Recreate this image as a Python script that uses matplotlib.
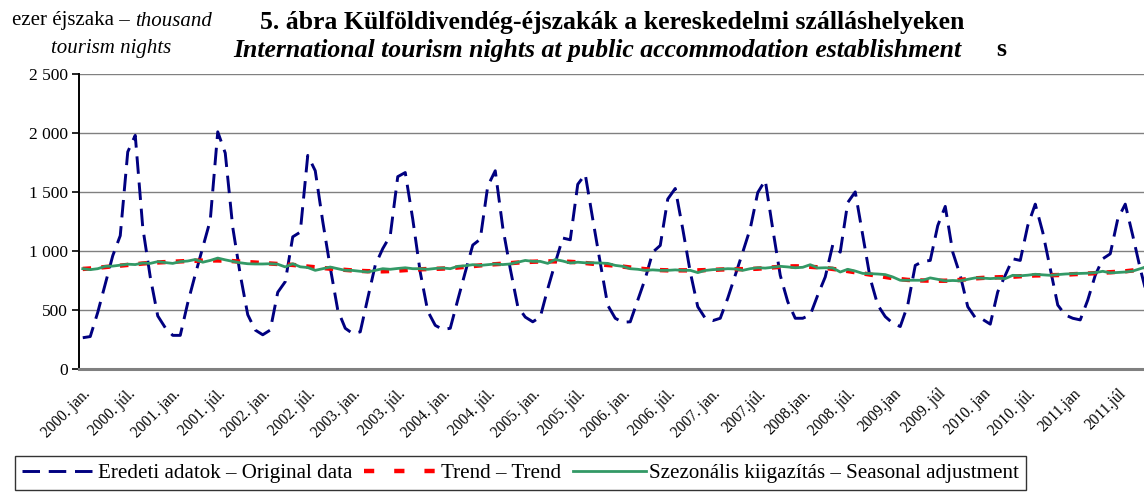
import matplotlib
matplotlib.use("Agg")
import matplotlib.pyplot as plt
from matplotlib.lines import Line2D

plt.rcParams['font.family'] = ['Liberation Serif', 'DejaVu Serif']

# ---------------- data (thousand nights), monthly from 2000 Jan ----------------
original = [
    265, 275, 480, 720, 960, 1130, 1840, 1980, 1200, 780, 450, 350,          # 2000
    285, 285, 560, 800, 1030, 1260, 2010, 1830, 1200, 800, 460, 330,         # 2001
    290, 330, 650, 740, 1120, 1160, 1810, 1680, 1250, 860, 500, 345,         # 2002
    300, 315, 600, 880, 1020, 1130, 1630, 1665, 1270, 820, 490, 370,         # 2003
    335, 345, 585, 820, 1050, 1100, 1550, 1680, 1200, 850, 530, 440,         # 2004
    400, 440, 680, 900, 1110, 1095, 1565, 1650, 1270, 900, 540, 430,         # 2005
    396, 400, 584, 766, 990, 1047, 1440, 1530, 1187, 822, 528, 430,          # 2006
    410, 430, 600, 794, 990, 1190, 1495, 1600, 1187, 794, 570, 430,          # 2007
    430, 458, 626, 780, 1052, 990, 1411, 1501, 1131, 766, 542, 444,          # 2008
    388, 360, 542, 878, 912, 920, 1215, 1378, 990, 794, 528, 435,            # 2009
    420, 380, 654, 794, 934, 920, 1215, 1397, 1159, 850, 542, 458,           # 2010
    430, 416, 584, 794, 934, 976, 1271, 1397, 1131, 850, 600,                # 2011 (to Nov)
]
trend = [
    848, 852, 858, 864, 870, 876, 882, 888, 894, 899, 903, 906,
    909, 912, 915, 917, 919, 920, 920, 918, 914, 910, 906, 902,
    898, 894, 890, 886, 882, 876, 868, 862, 856, 850, 845, 840,
    835, 831, 829, 828, 828, 830, 834, 838, 842, 845, 847, 849,
    851, 855, 860, 866, 872, 878, 884, 888, 892, 897, 902, 906,
    909, 911, 912, 912, 911, 908, 904, 898, 892, 886, 881, 876,
    868, 860, 852, 846, 842, 838, 836, 836, 836, 836, 836, 838,
    840, 843, 845, 846, 846, 848, 850, 855, 861, 866, 869, 870,
    869, 866, 862, 856, 848, 840, 830, 820, 810, 800, 790, 780,
    770, 762, 755, 752, 750, 749, 748, 748, 750, 755, 762, 768,
    772, 775, 777, 779, 782, 786, 790, 793, 794, 795, 796, 799,
    803, 806, 809, 812, 816, 820, 824, 828, 835, 845, 855,
]
seasonal = [
    850, 842, 850, 870, 872, 880, 888, 885, 898, 895, 910, 902,
    895, 910, 915, 928, 905, 920, 940, 925, 912, 900, 892, 890,
    890, 892, 888, 865, 892, 866, 860, 836, 850, 864, 850, 836,
    835, 828, 822, 836, 850, 845, 852, 858, 850, 850, 845, 852,
    856, 850, 870, 875, 884, 878, 884, 890, 885, 890, 905, 920,
    912, 912, 895, 928, 915, 898, 905, 900, 900, 898, 895, 878,
    870, 850, 845, 836, 840, 836, 836, 840, 836, 836, 817, 835,
    842, 845, 850, 848, 836, 850, 858, 855, 862, 870, 865, 858,
    862, 884, 856, 858, 856, 822, 845, 830, 810, 808, 805, 800,
    780, 752, 752, 752, 752, 772, 760, 747, 750, 747, 760, 772,
    770, 766, 770, 766, 794, 790, 795, 803, 798, 794, 800, 805,
    808, 810, 812, 817, 828, 815, 818, 822, 830, 850, 870,
]
tick_labels = [
    "2000. jan.", "2000. júl.", "2001. jan.", "2001. júl.", "2002. jan.", "2002. júl.",
    "2003. jan.", "2003. júl.", "2004. jan.", "2004. júl.", "2005. jan.", "2005. júl.",
    "2006. jan.", "2006. júl.", "2007. jan.", "2007.júl.", "2008.jan.", "2008. júl.",
    "2009.jan", "2009. júl", "2010. jan", "2010. júl.", "2011.jan", "2011.júl",
]
y_ticks = [0, 500, 1000, 1500, 2000, 2500]
y_tick_labels = ["0", "500", "1 000", "1 500", "2 000", "2 500"]

# ---------------- figure ----------------
W, H = 1144, 495
fig = plt.figure(figsize=(W / 100, H / 100), dpi=100)
ax = fig.add_axes([79 / W, (H - 369) / H, (1144 - 79) / W, (369 - 74) / H])

x = list(range(len(original)))
ax.plot(x, original, color='#000080', lw=2.1, dashes=(6, 3), zorder=3)
ax.plot(x, trend, color='#FF0000', lw=3.2, dashes=(1.9, 2.3), zorder=4)
ax.plot(x, seasonal, color='#339966', lw=2.0, zorder=5)

ax.set_xlim(-0.5, 141.5)
ax.set_ylim(0, 2500)
ax.set_yticks(y_ticks)
ax.set_yticklabels(y_tick_labels, fontsize=12.5)
ax.yaxis.grid(True, color='#808080', lw=1.0)
ax.set_axisbelow(True)
ax.tick_params(axis='y', length=5, width=1.2, color='black', pad=3)

ax.set_xticks(list(range(0, 139, 6)))
ax.set_xticklabels(tick_labels, rotation=45, ha='right', va='top',
                   rotation_mode='anchor', fontsize=11.2)
ax.tick_params(axis='x', length=0, pad=12)

for s in ['top', 'right']:
    ax.spines[s].set_visible(False)
ax.spines['left'].set_color('black')
ax.spines['left'].set_linewidth(1.4)
ax.spines['bottom'].set_color('#808080')
ax.spines['bottom'].set_linewidth(2.2)

# ---------------- titles ----------------
fig.text(612 / W, 1 - 22 / H, "5. ábra Külföldivendég-éjszakák a kereskedelmi szálláshelyeken",
         ha='center', va='center', fontsize=18.5, fontweight='bold')
fig.text(597 / W, 1 - 50 / H, "International tourism nights at public accommodation establishment",
         ha='center', va='center', fontsize=18.5, fontweight='bold', style='italic')
fig.text(1001 / W, 1 - 50 / H, "s", ha='center', va='center', fontsize=18.5, fontweight='bold')

renderer = fig.canvas.get_renderer()
t1 = fig.text(12 / W, 1 - 21 / H, "ezer éjszaka – ", ha='left', va='center', fontsize=15)
bb = t1.get_window_extent(renderer=renderer)
fig.text(bb.x1 / W, 1 - 21 / H, "thousand", ha='left', va='center', fontsize=15, style='italic')
fig.text(111 / W, 1 - 48 / H, "tourism nights", ha='center', va='center', fontsize=15, style='italic')

# ---------------- legend ----------------
handles = [
    Line2D([], [], color='#000080', lw=2.1, dashes=(6, 3)),
    Line2D([], [], color='#FF0000', lw=3.2, dashes=(2.3, 4.5)),
    Line2D([], [], color='#339966', lw=2.0),
]
labels = ["Eredeti adatok – Original data", "Trend – Trend",
          "Szezonális kiigazítás – Seasonal adjustment"]
leg = fig.legend(handles, labels, loc='lower left', bbox_to_anchor=(15 / W, 5 / H),
                 ncol=3, fontsize=15.1, frameon=True, fancybox=False, edgecolor='black',
                 handlelength=3.5, handletextpad=0.15, columnspacing=0.55,
                 borderpad=0.33, borderaxespad=0)
leg.get_frame().set_linewidth(1.0)

fig.savefig("out.png", dpi=100)
